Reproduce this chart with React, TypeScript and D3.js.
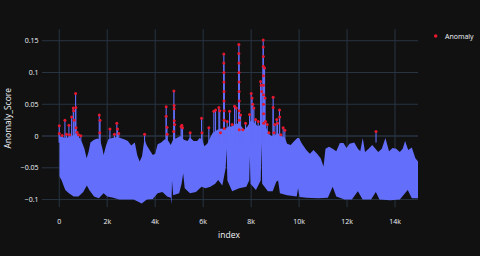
import React from 'react';
import * as d3 from 'd3';

// chart size and plot area (plotly_dark look)
const W = 480;
const H = 256;
const plot = { left: 42, right: 418, top: 29.3, bottom: 207.2 };

// axis ticks
const xTicks = [0, 2000, 4000, 6000, 8000, 10000, 12000, 14000];
const xTickLabels = ['0', '2k', '4k', '6k', '8k', '10k', '12k', '14k'];
const yTicks = [0.15, 0.1, 0.05, 0, -0.05, -0.1];
const yTickLabels = ['0.15', '0.1', '0.05', '0', '\u22120.05', '\u22120.1'];

// upper edge of the dense Anomaly_Score band: [index, score]
const topEdge: [number, number][] = [
  [0, 0.0], [150, -0.002], [300, -0.003], [500, 0.0], [700, 0.002], [850, -0.003],
  [950, -0.01], [1050, -0.02], [1140, -0.035], [1220, -0.025], [1300, -0.01], [1450, -0.006],
  [1600, -0.004], [1700, -0.006], [1800, -0.02], [1850, -0.03], [1950, -0.015], [2050, -0.005],
  [2200, -0.003], [2350, -0.002], [2550, -0.003], [2700, -0.005], [2860, -0.008], [3000, -0.015],
  [3150, -0.01], [3250, -0.03], [3350, -0.04], [3450, -0.032], [3550, -0.005], [3650, -0.015],
  [3800, -0.024], [3900, -0.03], [4000, -0.028], [4100, -0.013], [4250, -0.01], [4400, -0.005],
  [4550, -0.008], [4650, -0.014], [4750, -0.005], [4900, -0.003], [5050, 0.0], [5200, -0.006],
  [5350, -0.008], [5450, -0.002], [5600, -0.008], [5750, -0.008], [5850, -0.003], [5960, -0.005],
  [6050, -0.016], [6170, -0.012], [6300, -0.002], [6400, 0.005], [6600, 0.01], [6750, 0.012],
  [6900, 0.01], [7050, 0.015], [7200, 0.015], [7400, 0.02], [7600, 0.015], [7700, 0.01],
  [7850, 0.015], [8000, 0.025], [8150, 0.02], [8300, 0.015], [8450, 0.02], [8600, 0.015],
  [8750, 0.003], [8850, 0.0], [8950, 0.0], [9100, 0.005], [9250, 0.0], [9400, -0.002],
  [9500, -0.012], [9650, -0.014], [9800, -0.008], [9930, -0.003], [10000, -0.003], [10100, -0.011],
  [10300, -0.022], [10450, -0.028], [10600, -0.022], [10750, -0.028], [10900, -0.035], [11020, -0.048],
  [11100, -0.02], [11250, -0.017], [11400, -0.02], [11550, -0.024], [11700, -0.011], [11850, -0.011],
  [11980, -0.019], [12100, -0.012], [12300, -0.01], [12450, -0.02], [12550, -0.024], [12655, -0.003],
  [12750, -0.025], [12900, -0.02], [13050, -0.014], [13300, -0.025], [13450, -0.02], [13600, -0.003],
  [13750, -0.024], [13900, -0.019], [14050, -0.02], [14200, -0.025], [14320, -0.02], [14420, -0.008],
  [14550, -0.022], [14700, -0.018], [14850, -0.035], [14960, -0.04],
];

// lower edge of the band: [index, score]
const bottomEdge: [number, number][] = [
  [0, -0.063], [100, -0.07], [250, -0.085], [400, -0.09], [600, -0.095], [800, -0.095],
  [1000, -0.088], [1150, -0.078], [1250, -0.085], [1450, -0.095], [1650, -0.098], [1850, -0.09],
  [2000, -0.095], [2250, -0.097], [2500, -0.1], [2700, -0.1], [3100, -0.1], [3440, -0.106],
  [3650, -0.1], [3900, -0.099], [4100, -0.09], [4300, -0.088], [4500, -0.095], [4650, -0.097],
  [4680, -0.108], [4700, -0.07], [4750, -0.093], [5000, -0.09], [5100, -0.075], [5167, -0.059],
  [5230, -0.082], [5450, -0.09], [5700, -0.088], [5933, -0.08], [6100, -0.082], [6300, -0.08],
  [6500, -0.075], [6625, -0.069], [6800, -0.078], [6940, -0.05], [6975, -0.02], [7010, -0.07],
  [7210, -0.087], [7500, -0.082], [7800, -0.08], [7920, -0.07], [7946, -0.033], [7975, -0.075],
  [8200, -0.085], [8400, -0.07], [8433, -0.012], [8460, -0.075], [8700, -0.087], [8900, -0.087],
  [9050, -0.072], [9125, -0.07], [9200, -0.09], [9500, -0.093], [9900, -0.095], [9958, -0.082],
  [10020, -0.096], [10300, -0.097], [10800, -0.098], [11200, -0.097], [11400, -0.08], [11550, -0.095],
  [11900, -0.1], [12200, -0.1], [12450, -0.087], [12650, -0.1], [13000, -0.1], [13200, -0.088],
  [13350, -0.1], [13800, -0.101], [14200, -0.1], [14530, -0.085], [14700, -0.098], [14960, -0.098],
];

// points flagged as anomalies: [index, score]
const anomalies: [number, number][] = [
  [0, 0.016], [0, 0.004], [120, 0.001], [236, 0.025], [300, 0.003], [403, 0.017], [430, 0.002],
  [514, 0.03], [583, 0.044], [600, 0.04], [620, 0.025], [681, 0.067], [690, 0.045], [700, 0.013],
  [740, 0.006], [800, 0.002], [900, 0.0005],
  [1667, 0.033], [1700, 0.025], [1690, 0.005], [2112, 0.011], [2300, 0.003], [2400, 0.02],
  [2430, 0.011], [2480, 0.004], [3557, 0.003],
  [4458, 0.046], [4458, 0.031], [4490, 0.014], [4500, 0.003], [4779, 0.071], [4790, 0.048],
  [4790, 0.043], [4795, 0.024], [4810, 0.018], [4770, 0.007], [5080, 0.015], [5112, 0.017],
  [5140, 0.013], [5458, 0.005],
  [5933, 0.028], [5950, 0.005], [6237, 0.013], [6446, 0.039], [6516, 0.041], [6654, 0.045],
  [6690, 0.04], [6720, 0.005],
  [6862, 0.129], [6862, 0.115], [6866, 0.1], [6866, 0.085], [6870, 0.07], [6870, 0.055],
  [6874, 0.04], [6874, 0.025], [6878, 0.012],
  [7000, 0.023], [7100, 0.039], [7210, 0.018], [7308, 0.047], [7378, 0.044],
  [7489, 0.144], [7489, 0.13], [7493, 0.115], [7493, 0.1], [7497, 0.085], [7497, 0.07],
  [7501, 0.055], [7501, 0.04], [7505, 0.025], [7505, 0.01],
  [7560, 0.033], [7655, 0.01], [7767, 0.02], [7934, 0.034], [8003, 0.067], [8040, 0.06],
  [8070, 0.05], [8115, 0.044], [8184, 0.026], [8295, 0.023],
  [8393, 0.086], [8420, 0.08], [8440, 0.07],
  [8504, 0.151], [8504, 0.14], [8508, 0.125], [8508, 0.11], [8512, 0.095], [8512, 0.08],
  [8516, 0.065], [8516, 0.05], [8520, 0.035], [8520, 0.02],
  [8560, 0.107], [8580, 0.06], [8600, 0.023], [8670, 0.018], [8740, 0.005],
  [8918, 0.061], [8918, 0.045], [8950, 0.005], [8988, 0.018], [9071, 0.026], [9100, 0.02],
  [9182, 0.041], [9190, 0.03], [9238, 0.002], [9335, 0.013], [9405, 0.009],
  [13208, 0.007],
];

const lineColor = '#636efa';
const gridColor = '#283442';
const textColor = '#f2f5fa';
const font = '"Open Sans", verdana, arial, sans-serif';

const App = () => {
  const x = d3.scaleLinear().domain([-720, 14958]).range([plot.left, plot.right]);
  const y = d3.scaleLinear().domain([-0.112, 0.168]).range([plot.bottom, plot.top]);

  // band: filled down from the top edge, clipped above the bottom edge
  const topArea = d3.area<[number, number]>()
    .x(d => x(d[0]))
    .y0(plot.bottom)
    .y1(d => y(d[1]));
  const clipArea = d3.area<[number, number]>()
    .x(d => x(d[0]))
    .y0(plot.top)
    .y1(d => y(d[1]));

  return (
    <svg width={W} height={H} style={{ position: 'absolute', left: 0, top: 0, background: '#111111' }}>
      <rect width={W} height={H} fill="#111111" />
      <defs>
        <clipPath id="band-clip">
          <path d={clipArea(bottomEdge) || ''} />
        </clipPath>
      </defs>

      {/* grid */}
      {xTicks.map(t => (
        <line key={'gx' + t} x1={x(t)} x2={x(t)} y1={plot.top} y2={plot.bottom} stroke={gridColor} strokeWidth={1} />
      ))}
      {yTicks.map(t => (
        <line key={'gy' + t} x1={plot.left} x2={plot.right} y1={y(t)} y2={y(t)} stroke={gridColor} strokeWidth={t === 0 ? 1.5 : 1} />
      ))}

      {/* Anomaly_Score line */}
      <path d={topArea(topEdge) || ''} fill={lineColor} clipPath="url(#band-clip)" />
      {anomalies.map((d, i) => (
        <line key={'s' + i} x1={x(d[0])} x2={x(d[0])} y1={y(d[1])} y2={y(-0.01)} stroke={lineColor} strokeWidth={1.1} />
      ))}

      {/* anomaly markers */}
      {anomalies.map((d, i) => (
        <circle key={'a' + i} cx={x(d[0])} cy={y(d[1])} r={1.5} fill="#e5182e" />
      ))}

      {/* tick labels */}
      {xTicks.map((t, i) => (
        <text key={'tx' + t} x={x(t)} y={223.5} textAnchor="middle" fontFamily={font} fontSize={7} fill={textColor}>
          {xTickLabels[i]}
        </text>
      ))}
      {yTicks.map((t, i) => (
        <text key={'ty' + t} x={38.5} y={y(t) + 2.5} textAnchor="end" fontFamily={font} fontSize={7} fill={textColor}>
          {yTickLabels[i]}
        </text>
      ))}

      {/* axis titles */}
      <text x={229} y={238} textAnchor="middle" fontFamily={font} fontSize={8.5} fill={textColor}>index</text>
      <text transform={`translate(10.5,${(plot.top + plot.bottom) / 2}) rotate(-90)`} textAnchor="middle" fontFamily={font} fontSize={8.5} fill={textColor}>
        Anomaly_Score
      </text>

      {/* legend */}
      <circle cx={435.7} cy={36} r={1.8} fill="#e5182e" />
      <text x={445} y={38.5} fontFamily={font} fontSize={7} fill={textColor}>Anomaly</text>
    </svg>
  );
};

export default App;
